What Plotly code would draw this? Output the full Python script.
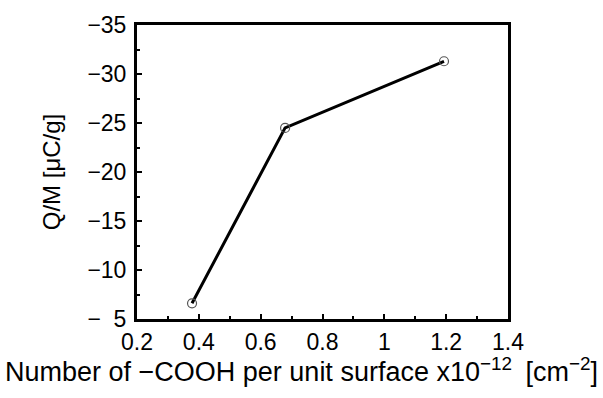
import plotly.graph_objects as go

x_vals = [0.378, 0.679, 1.193]
y_vals = [-6.6, -24.5, -31.3]

x_ticks = [0.2, 0.4, 0.6, 0.8, 1.0, 1.2, 1.4]
x_ticktext = ["0.2", "0.4", "0.6", "0.8", "1", "1.2", "1.4"]
y_ticks = [-35, -30, -25, -20, -15, -10, -5]
y_ticktext = ["\u221235", "\u221230", "\u221225", "\u221220", "\u221215", "\u221210", "\u2212\u20075"]

x_title = "Number of \u2212COOH per unit surface x10<sup>\u221212</sup>\u2002[cm<sup>\u22122</sup>]"
y_title = "Q/M [\u03bcC/g]"

font_family = "Liberation Sans, Arial, sans-serif"

fig = go.Figure()
fig.add_trace(go.Scatter(
    x=x_vals, y=y_vals, mode="lines+markers",
    line=dict(color="black", width=3),
    marker=dict(symbol="circle-open", size=9, color="#555555", line=dict(width=1.2)),
    showlegend=False,
))

fig.add_annotation(
    text=x_title, xref="paper", yref="paper", x=0.443, y=-0.175,
    xanchor="center", yanchor="middle", showarrow=False,
    font=dict(size=27, family=font_family, color="black"),
)

fig.update_layout(
    width=603, height=398,
    margin=dict(l=137, r=95, t=21, b=79),
    paper_bgcolor="white", plot_bgcolor="white",
    font=dict(family=font_family, size=23, color="black"),
    xaxis=dict(
        range=[0.2, 1.4], tickvals=x_ticks, ticktext=x_ticktext,
        ticks="inside", ticklen=5, tickwidth=2, tickcolor="black",
        minor=dict(dtick=0.1, tick0=0.2, ticks="inside", ticklen=3, tickwidth=2, tickcolor="black"),
        showline=True, linewidth=3, linecolor="black", mirror=True,
        showgrid=False, zeroline=False,
        tickfont=dict(size=23), ticklabelstandoff=0,
    ),
    yaxis=dict(
        range=[-5, -35], tickvals=y_ticks, ticktext=y_ticktext,
        ticks="inside", ticklen=5, tickwidth=2, tickcolor="black",
        minor=dict(dtick=2.5, tick0=-35, ticks="inside", ticklen=3, tickwidth=2, tickcolor="black"),
        showline=True, linewidth=3, linecolor="black", mirror=True,
        showgrid=False, zeroline=False,
        tickfont=dict(size=23), ticklabelstandoff=3,
        title=dict(text=y_title, font=dict(size=24), standoff=20),
    ),
)

fig.write_html("out.html")
